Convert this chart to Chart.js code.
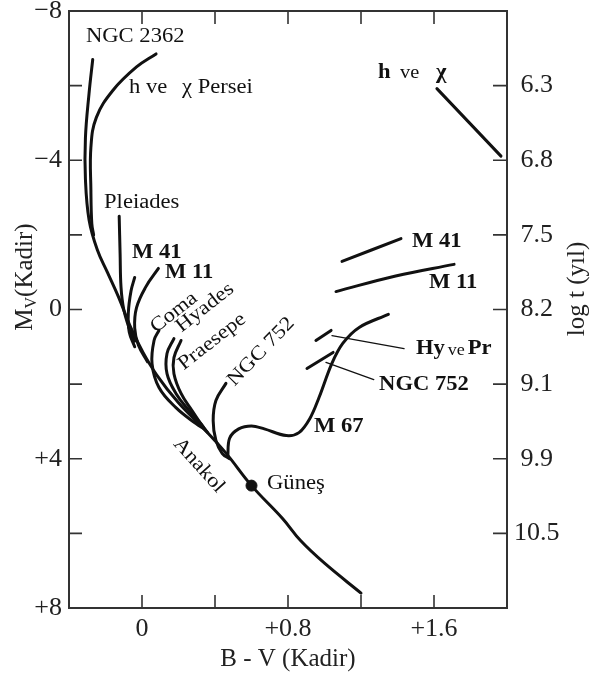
<!DOCTYPE html>
<html lang="tr">
<head>
<meta charset="UTF-8">
<title>Yıldız kümelerinin renk-parlaklık diyagramı</title>
<script src="https://cdn.jsdelivr.net/npm/chart.js"></script>
<style>
  body{margin:0;background:#fff}
  #wrap{width:590px;height:677px}
</style>
</head>
<body>
<div id="wrap"><canvas id="hr" width="590" height="677"></canvas></div>
<script>
// Anakol (sıfır yaş anakolu), NGC 2362 ucundan kırmızıya
const zamsBV = [-0.27, -0.29, -0.31, -0.31, -0.29, -0.245, -0.19, -0.13, -0.06, 0.0, 0.08, 0.2, 0.33, 0.46, 0.6, 0.77, 0.87, 1.0, 1.2];
const zamsMV = [-6.7, -5.8, -4.6, -3.5, -2.4, -1.6, -1.0, -0.35, 0.5, 1.1, 1.75, 2.5, 3.15, 3.85, 4.72, 5.6, 6.2, 6.8, 7.6];

// anakoldan ayrılan kol uçları
const perseiBV = [0.077, -0.03, -0.16, -0.25, -0.28, -0.28, -0.275, -0.265];
const perseiMV = [-6.85, -6.5, -5.87, -5.15, -4.35, -3.2, -2.3, -2.0];
const pleiadesBV = [-0.125, -0.12, -0.115, -0.1, -0.07, -0.04];
const pleiadesMV = [-2.5, -1.5, -0.6, 0.0, 0.5, 0.85];
const m41BV = [-0.04, -0.06, -0.075, -0.07, -0.04];
const m41MV = [-0.86, -0.5, 0.1, 0.6, 1.0];
const m11BV = [0.09, 0.02, -0.03, -0.04, -0.02, 0.03];
const m11MV = [-1.1, -0.6, -0.05, 0.5, 0.95, 1.4];
const comaBV = [0.093, 0.066, 0.055, 0.093, 0.186, 0.296, 0.34];
const comaMV = [0.56, 0.83, 1.45, 2.09, 2.63, 3.06, 3.2];
const hyadesBV = [0.175, 0.137, 0.137, 0.186, 0.258, 0.323, 0.35];
const hyadesMV = [0.78, 1.18, 1.72, 2.25, 2.71, 3.06, 3.25];
const praesepeBV = [0.214, 0.175, 0.175, 0.214, 0.274, 0.329, 0.36];
const praesepeMV = [0.83, 1.29, 1.72, 2.25, 2.71, 3.11, 3.3];
const ngc752BV = [0.46, 0.405, 0.39, 0.405, 0.44, 0.48];
const ngc752MV = [1.98, 2.44, 2.98, 3.51, 3.86, 4.0];
const m67BV = [0.47, 0.48, 0.53, 0.6, 0.67, 0.79, 0.86, 0.92, 0.97, 1.04, 1.1, 1.19, 1.35];
const m67MV = [3.95, 3.45, 3.2, 3.12, 3.2, 3.38, 3.3, 2.92, 2.36, 1.45, 0.91, 0.48, 0.13];

// dev kolu parçaları
const giantPerseiBV = [1.616, 1.967];
const giantPerseiMV = [-5.92, -4.11];
const giantM41BV = [1.096, 1.419];
const giantM41MV = [-1.29, -1.9];
const giantM11BV = [1.063, 1.39, 1.71];
const giantM11MV = [-0.48, -0.9, -1.21];
const giantHyPrBV = [0.953, 1.036];
const giantHyPrMV = [0.83, 0.56];
const giantN752BV = [0.904, 1.047];
const giantN752MV = [1.58, 1.15];

// etiket çizgileri
const leadHyPrBV = [1.041, 1.436];
const leadHyPrMV = [0.7, 1.05];
const leadN752BV = [1.008, 1.27];
const leadN752MV = [1.42, 1.88];

const sunBV = [0.6];
const sunMV = [4.72];

// eksen işaretleri
const mvTicks = [-8, -4, 0, 4, 8];
const mvTickText = ['\u22128', '\u22124', '0', '+4', '+8'];
const mvMarks = [-6, -4, -2, 0, 2, 4, 6];
const bvTicks = [0, 0.8, 1.6];
const bvTickText = ['0', '+0.8', '+1.6'];
const bvMarks = [0, 0.4, 0.8, 1.2, 1.6];
const ageTickMv = [-6, -4, -2, 0, 2, 4, 6];
const ageText = ['6.3', '6.8', '7.5', '8.2', '9.1', '9.9', '10.5'];

const SERIF = '"Liberation Serif", "DejaVu Serif", serif';
const INK = '#111';
const STRETCH = 1.13; // yazılar biraz geniş

const pts = (xs, ys) => xs.map((x, i) => ({ x, y: ys[i] }));
const curve = (xs, ys, w = 3, t = 0.4) => ({
  data: pts(xs, ys), showLine: true, borderColor: INK, borderWidth: w,
  pointRadius: 0, tension: t, fill: false, borderCapStyle: 'round', borderJoinStyle: 'round'
});

const datasets = [
  curve(zamsBV, zamsMV),
  curve(perseiBV, perseiMV),
  curve(pleiadesBV, pleiadesMV),
  curve(m41BV, m41MV),
  curve(m11BV, m11MV),
  curve(comaBV, comaMV),
  curve(hyadesBV, hyadesMV),
  curve(praesepeBV, praesepeMV),
  curve(ngc752BV, ngc752MV),
  curve(m67BV, m67MV, 3, 0.35),
  curve(giantPerseiBV, giantPerseiMV),
  curve(giantM41BV, giantM41MV),
  curve(giantM11BV, giantM11MV),
  curve(giantHyPrBV, giantHyPrMV),
  curve(giantN752BV, giantN752MV),
  curve(leadHyPrBV, leadHyPrMV, 1.3, 0),
  curve(leadN752BV, leadN752MV, 1.3, 0),
  { data: pts(sunBV, sunMV), pointRadius: 5.5, pointBackgroundColor: INK, pointBorderColor: INK, showLine: false }
];

const reg = `20px ${SERIF}`, bold = `bold 20px ${SERIF}`, small = `16px ${SERIF}`;

// düz etiketler: sol kenar (bv) ve orta çizgi (mv)
const labels = [
  { bv: -0.307, mv: -7.3, t: 'NGC 2362', f: reg },
  { bv: -0.071, mv: -5.95, t: 'h ve', f: reg },
  { bv: 0.219, mv: -5.95, t: '\u03c7 Persei', f: reg },
  { bv: 1.293, mv: -6.33, t: 'h', f: bold },
  { bv: 1.414, mv: -6.33, t: 've', f: `18px ${SERIF}` },
  { bv: 1.611, mv: -6.33, t: '\u03c7', f: bold },
  { bv: -0.208, mv: -2.87, t: 'Pleiades', f: reg },
  { bv: -0.055, mv: -1.53, t: 'M 41', f: bold },
  { bv: 0.126, mv: -0.97, t: 'M 11', f: bold },
  { bv: 0.685, mv: 4.66, t: 'Güneş', f: reg },
  { bv: 0.942, mv: 3.14, t: 'M 67', f: bold },
  { bv: 1.479, mv: -1.82, t: 'M 41', f: bold },
  { bv: 1.573, mv: -0.72, t: 'M 11', f: bold },
  { bv: 1.501, mv: 1.05, t: 'Hy', f: bold },
  { bv: 1.675, mv: 1.1, t: 've', f: small },
  { bv: 1.785, mv: 1.05, t: 'Pr', f: bold },
  { bv: 1.299, mv: 2.01, t: 'NGC 752', f: bold }
];

// eğik etiketler: merkez ve açı
const tilted = [
  { bv: 0.175, mv: 0.08, a: -38, t: 'Coma' },
  { bv: 0.345, mv: -0.05, a: -38, t: 'Hyades' },
  { bv: 0.384, mv: 0.86, a: -38, t: 'Praesepe' },
  { bv: 0.652, mv: 1.13, a: -46, t: 'NGC 752' },
  { bv: 0.312, mv: 4.18, a: 48, t: 'Anakol' }
];

function wideText(ctx, txt, x, y, font) {
  ctx.save();
  ctx.font = font;
  ctx.translate(x, y);
  ctx.scale(STRETCH, 1);
  ctx.fillText(txt, 0, 0);
  ctx.restore();
}

const decor = {
  id: 'decor',
  afterDraw(chart) {
    const { ctx, chartArea: a, scales } = chart;
    const sx = scales.x, sy = scales.y, sy2 = scales.y2;
    ctx.save();
    // çerçeve
    ctx.strokeStyle = '#333';
    ctx.lineWidth = 2;
    ctx.strokeRect(a.left, a.top, a.right - a.left, a.bottom - a.top);
    // içe dönük işaretler
    ctx.lineWidth = 1.6;
    ctx.beginPath();
    bvMarks.forEach(v => {
      const px = sx.getPixelForValue(v);
      ctx.moveTo(px, a.bottom); ctx.lineTo(px, a.bottom - 13);
      ctx.moveTo(px, a.top); ctx.lineTo(px, a.top + 13);
    });
    mvMarks.forEach(v => {
      const py = sy.getPixelForValue(v);
      ctx.moveTo(a.left, py); ctx.lineTo(a.left + 13, py);
    });
    ageTickMv.forEach(v => {
      const py = sy2.getPixelForValue(v);
      ctx.moveTo(a.right, py); ctx.lineTo(a.right - 14, py);
    });
    ctx.stroke();

    // küme adları
    ctx.fillStyle = INK;
    ctx.textBaseline = 'middle';
    ctx.textAlign = 'left';
    labels.forEach(l => wideText(ctx, l.t, sx.getPixelForValue(l.bv), sy.getPixelForValue(l.mv), l.f));
    ctx.textAlign = 'center';
    tilted.forEach(l => {
      ctx.save();
      ctx.translate(sx.getPixelForValue(l.bv), sy.getPixelForValue(l.mv));
      ctx.rotate(l.a * Math.PI / 180);
      wideText(ctx, l.t, 0, 0, reg);
      ctx.restore();
    });

    // eksen başlıkları
    ctx.fillStyle = '#222';
    ctx.font = `25px ${SERIF}`;
    ctx.fillText('B - V (Kadir)', (a.left + a.right) / 2, a.bottom + 51);

    ctx.save();
    ctx.translate(25, 277);
    ctx.rotate(-Math.PI / 2);
    ctx.textAlign = 'left';
    const big = `25px ${SERIF}`, sub = `16px ${SERIF}`;
    ctx.font = big; const wM = ctx.measureText('M').width, wK = ctx.measureText('(Kadir)').width;
    ctx.font = sub; const wV = ctx.measureText('V').width;
    let x0 = -(wM + wV + wK) / 2;
    ctx.font = big; ctx.fillText('M', x0, 0);
    ctx.font = sub; ctx.fillText('V', x0 + wM, 7);
    ctx.font = big; ctx.fillText('(Kadir)', x0 + wM + wV, 0);
    ctx.restore();

    ctx.save();
    ctx.translate(577, 289);
    ctx.rotate(-Math.PI / 2);
    ctx.font = `25px ${SERIF}`;
    ctx.fillText('log t (yıl)', 0, 0);
    ctx.restore();
    ctx.restore();
  }
};

const noPad = s => { s.paddingTop = 0; s.paddingBottom = 0; s.paddingLeft = 0; s.paddingRight = 0; };

new Chart(document.getElementById('hr'), {
  type: 'scatter',
  data: { datasets },
  options: {
    responsive: false,
    animation: false,
    layout: { padding: { top: 11, left: 0, right: 0, bottom: 0 } },
    plugins: { legend: { display: false }, tooltip: { enabled: false } },
    scales: {
      x: {
        type: 'linear', min: -0.4, max: 2.0,
        grid: { display: false, drawTicks: false }, border: { display: false },
        afterFit: s => { noPad(s); s.height = 69; },
        afterBuildTicks: s => { s.ticks = bvTicks.map(v => ({ value: v })); },
        ticks: {
          padding: 6, maxRotation: 0, autoSkip: false, color: '#222',
          font: { family: SERIF, size: 26 },
          callback: v => bvTickText[bvTicks.indexOf(v)]
        }
      },
      y: {
        type: 'linear', reverse: true, min: -8, max: 8,
        grid: { display: false, drawTicks: false }, border: { display: false },
        afterFit: s => { noPad(s); s.width = 69; },
        afterBuildTicks: s => { s.ticks = mvTicks.map(v => ({ value: v })); },
        ticks: {
          padding: 7, autoSkip: false, color: '#222',
          font: { family: SERIF, size: 26 },
          callback: v => mvTickText[mvTicks.indexOf(v)]
        }
      },
      y2: {
        type: 'linear', position: 'right', reverse: true, min: -8, max: 8,
        grid: { display: false, drawTicks: false }, border: { display: false },
        afterFit: s => { noPad(s); s.width = 83; },
        afterBuildTicks: s => { s.ticks = ageTickMv.map(v => ({ value: v })); },
        ticks: {
          padding: 7, autoSkip: false, color: '#222', crossAlign: 'center',
          font: { family: SERIF, size: 26 },
          callback: v => ageText[ageTickMv.indexOf(v)]
        }
      }
    }
  },
  plugins: [decor]
});
</script>
</body>
</html>
